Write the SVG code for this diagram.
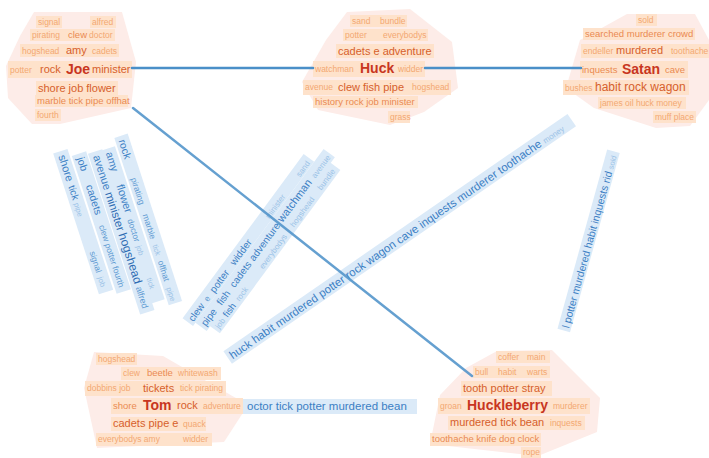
<svg xmlns="http://www.w3.org/2000/svg" width="709" height="458" viewBox="0 0 709 458">
<style>
text{font-family:"Liberation Sans",Arial,sans-serif}
.c0{font-size:14px;font-weight:bold;fill:#c8361f}
.s1{font-size:11px;fill:#d6602c}
.s2{font-size:9.5px;fill:#ea8a52}
.s3{font-size:8.5px;fill:#f3a872}
.hull{fill:#fdece8}
.wb{fill:#fee2cb}
.b0{font-size:11.5px;fill:#3b7fc4}
.b1{font-size:10.5px;fill:#3b7fc4}
.bb{font-size:11.5px;fill:#2f6db3}
.b2{font-size:8.5px;fill:#5e9ad2}
.b3{font-size:7.5px;fill:#9cc3e7}
.lb{fill:#dbeaf8}
.edge{stroke:#4a8fc8;stroke-width:2.5;fill:none;stroke-linecap:round}
</style>
<rect width="709" height="458" fill="#ffffff"/>

<g id="joe">
<polygon class="hull" points="34,12 122,12 136,62 131,108 60,124 32,124 8,98 6,66 20,36"/>
<rect class="wb" x="36" y="16" width="26" height="12"/>
<rect class="wb" x="90" y="16" width="26" height="12"/>
<rect class="wb" x="30" y="29" width="85" height="12"/>
<rect class="wb" x="20" y="44" width="99" height="13"/>
<rect class="wb" x="8" y="61" width="124" height="17"/>
<rect class="wb" x="36" y="81" width="82" height="14"/>
<rect class="wb" x="35" y="95" width="93" height="12"/>
<rect class="wb" x="35" y="109" width="26" height="12"/>
<text class="s3" x="38" y="25">signal</text>
<text class="s3" x="92" y="25">alfred</text>
<text class="s3" x="32" y="38">pirating</text>
<text class="s2" x="68" y="38">clew</text>
<text class="s3" x="89" y="38">doctor</text>
<text class="s3" x="22" y="54">hogshead</text>
<text class="s1" x="66" y="54">amy</text>
<text class="s3" x="92" y="54">cadets</text>
<text class="s3" x="10" y="73">potter</text>
<text class="s1" x="40" y="73">rock</text>
<text class="c0" x="66" y="74">Joe</text>
<text class="s1" x="92" y="73">minister</text>
<text class="s1" x="38" y="92">shore job flower</text>
<text class="s2" x="37" y="104">marble tick pipe offhat</text>
<text class="s3" x="37" y="118">fourth</text>
</g>

<g id="huck">
<polygon class="hull" points="347,12 410,9 452,42 458,88 424,112 390,125 318,110 302,82 326,40"/>
<rect class="wb" x="350" y="15" width="57" height="12"/>
<rect class="wb" x="343" y="29" width="85" height="12"/>
<rect class="wb" x="336" y="44" width="98" height="14"/>
<rect class="wb" x="313" y="61" width="112" height="16"/>
<rect class="wb" x="303" y="80" width="148" height="15"/>
<rect class="wb" x="313" y="96" width="105" height="12"/>
<rect class="wb" x="388" y="111" width="22" height="12"/>
<text class="s3" x="352" y="24">sand</text>
<text class="s3" x="380" y="24">bundle</text>
<text class="s3" x="345" y="38">potter</text>
<text class="s3" x="383" y="38">everybodys</text>
<text class="s1" x="338" y="55">cadets e adventure</text>
<text class="s3" x="315" y="72">watchman</text>
<text class="c0" x="360" y="73">Huck</text>
<text class="s3" x="398" y="72">widder</text>
<text class="s3" x="305" y="90">avenue</text>
<text class="s1" x="338" y="91">clew fish pipe</text>
<text class="s3" x="412" y="90">hogshead</text>
<text class="s2" x="315" y="105">history rock job minister</text>
<text class="s3" x="390" y="120">grass</text>
</g>

<g id="satan">
<polygon class="hull" points="627,14 695,14 709,40 709,100 690,126 656,128 594,108 566,88 580,40"/>
<rect class="wb" x="636" y="14" width="21" height="12"/>
<rect class="wb" x="583" y="28" width="112" height="12"/>
<rect class="wb" x="581" y="44" width="128" height="14"/>
<rect class="wb" x="580" y="61" width="108" height="17"/>
<rect class="wb" x="563" y="80" width="126" height="15"/>
<rect class="wb" x="598" y="97" width="88" height="12"/>
<rect class="wb" x="653" y="111" width="43" height="12"/>
<text class="s3" x="638" y="23">sold</text>
<text class="s2" x="585" y="37">searched murderer crowd</text>
<text class="s3" x="583" y="54">endeller</text>
<text class="s1" x="616" y="54">murdered</text>
<text class="s3" x="671" y="54">toothache</text>
<text class="s2" x="582" y="73">inquests</text>
<text class="c0" x="622" y="74">Satan</text>
<text class="s2" x="665" y="73">cave</text>
<text class="s3" x="565" y="91">bushes</text>
<text class="s1" x="595" y="91" style="font-size:12px">habit rock wagon</text>
<text class="s3" x="600" y="106">james oil huck money</text>
<text class="s3" x="655" y="120">muff place</text>
</g>

<g id="tom">
<polygon class="hull" points="94,352 163,356 248,405 224,442 97,448 84,388"/>
<rect class="wb" x="96" y="353" width="41" height="12"/>
<rect class="wb" x="121" y="367" width="100" height="13"/>
<rect class="wb" x="85" y="381" width="141" height="15"/>
<rect class="wb" x="111" y="398" width="132" height="16"/>
<rect class="wb" x="111" y="417" width="95" height="14"/>
<rect class="wb" x="96" y="433" width="116" height="13"/>
<text class="s3" x="98" y="362">hogshead</text>
<text class="s3" x="123" y="376">clew</text>
<text class="s2" x="147" y="376">beetle</text>
<text class="s3" x="178" y="376">whitewash</text>
<text class="s3" x="87" y="391">dobbins job</text>
<text class="s1" x="143" y="392">tickets</text>
<text class="s3" x="180" y="391">tick pirating</text>
<text class="s2" x="113" y="409">shore</text>
<text class="c0" x="143" y="410">Tom</text>
<text class="s1" x="177" y="409">rock</text>
<text class="s3" x="203" y="409">adventure</text>
<text class="s1" x="113" y="427">cadets pipe e</text>
<text class="s3" x="183" y="427">quack</text>
<text class="s3" x="98" y="442">everybodys amy</text>
<text class="s3" x="183" y="442">widder</text>
</g>

<g id="huckleberry">
<polygon class="hull" points="497,351 552,350 600,398 597,432 538,456 430,444 440,395 466,368"/>
<rect class="wb" x="496" y="351" width="54" height="12"/>
<rect class="wb" x="473" y="366" width="77" height="12"/>
<rect class="wb" x="461" y="381" width="91" height="15"/>
<rect class="wb" x="438" y="398" width="152" height="16"/>
<rect class="wb" x="448" y="416" width="137" height="14"/>
<rect class="wb" x="430" y="433" width="111" height="13"/>
<rect class="wb" x="521" y="447" width="20" height="11"/>
<text class="s3" x="498" y="360">coffer</text>
<text class="s3" x="527" y="360">main</text>
<text class="s3" x="475" y="375">bull</text>
<text class="s3" x="498" y="375">habit</text>
<text class="s3" x="527" y="375">warts</text>
<text class="s1" x="463" y="392">tooth potter stray</text>
<text class="s3" x="440" y="409">groan</text>
<text class="c0" x="467" y="410">Huckleberry</text>
<text class="s3" x="553" y="409">murderer</text>
<text class="s1" x="450" y="426">murdered tick bean</text>
<text class="s3" x="550" y="426">inquests</text>
<text class="s2" x="432" y="442">toothache knife dog clock</text>
<text class="s3" x="523" y="455">rope</text>
</g>

<g id="connectors">
<g id="label-joe" transform="translate(127,138) rotate(72)">
<rect class="lb" x="-4" y="-2" width="176" height="14"/>
<rect class="lb" x="4" y="14" width="161" height="14"/>
<rect class="lb" x="3" y="27" width="169" height="15"/>
<rect class="lb" x="0" y="43" width="145" height="15"/>
<rect class="lb" x="-8" y="60" width="148" height="15"/>
<text class="b1" x="0" y="9">rock</text>
<text class="b2" x="40" y="9">pirating</text>
<text class="b2" x="78" y="9">marble</text>
<text class="b3" x="110" y="9">tick</text>
<text class="b2" x="127" y="9">offhat</text>
<text class="b3" x="155" y="9">pipe</text>
<text class="b1" x="8" y="25">amy</text>
<text class="b1" x="42" y="25" style="font-size:11px">flower</text>
<text class="b2" x="78" y="25">doctor</text>
<text class="b3" x="106" y="25">job</text>
<text class="b3" x="140" y="25">tick</text>
<text class="b1" x="7" y="38" style="font-size:11px">avenue</text>
<text class="bb" x="46" y="38">minister</text>
<text class="bb" x="89" y="38" style="font-size:12px">hogshead</text>
<text class="b2" x="145" y="38" style="font-size:9px">alfred</text>
<text class="b1" x="4" y="54">job</text>
<text class="b1" x="33" y="54">cadets</text>
<text class="b2" x="75" y="54">clew potter fourth</text>
<text class="b1" x="-4" y="71" style="font-size:11px">shore</text>
<text class="b1" x="28" y="71" style="font-size:10px">tick</text>
<text class="b3" x="46" y="71">pipe</text>
<text class="b2" x="97" y="71">signal</text>
<text class="b3" x="124" y="71">job</text>
</g>
<g id="label-huck" transform="translate(190,320) rotate(-53.6)">
<rect class="lb" x="-3" y="-7" width="204" height="13"/>
<rect class="lb" x="1" y="6" width="216" height="14"/>
<rect class="lb" x="7" y="19" width="203" height="13"/>
<text class="b1" x="0" y="4" style="font-size:10px">clew</text>
<text class="b2" x="25" y="4">e</text>
<text class="b1" x="36" y="4" style="font-size:10px">potter</text>
<text class="b1" x="70" y="4" style="font-size:10px">widder</text>
<text class="b3" x="128" y="4" style="font-size:8px">minister</text>
<text class="b3" x="180" y="4" style="font-size:8px">sand</text>
<text class="b1" x="4" y="17" style="font-size:10px">pipe</text>
<text class="b1" x="30" y="17" style="font-size:10px">fish</text>
<text class="b1" x="52" y="17" style="font-size:10px">cadets</text>
<text class="b1" x="85" y="17" style="font-size:10px">adventure</text>
<text class="b1" x="133" y="17" style="font-size:11px">watchman</text>
<text class="b3" x="188" y="17" style="font-size:8px">avenue</text>
<text class="b3" x="10" y="29" style="font-size:8px">job</text>
<text class="b1" x="24" y="29" style="font-size:9.5px">fish</text>
<text class="b3" x="44" y="29" style="font-size:8px">rock</text>
<text class="b3" x="84" y="29" style="font-size:8px">everybodys</text>
<text class="b3" x="136" y="29" style="font-size:8px">hogshead</text>
<text class="b3" x="182" y="29" style="font-size:8px">bundle</text>
</g>
<g id="label-long" transform="translate(231,357) rotate(-34.6)">
<rect class="lb" x="-3" y="-9" width="418" height="15"/>
<text class="b0" x="0" y="3">huck habit murdered potter rock wagon cave inquests murderer toothache <tspan class="b3" style="font-size:8px">money</tspan></text>
</g>
<g id="label-right" transform="translate(566,328) rotate(-74.5)">
<rect class="lb" x="-3" y="-8" width="186" height="13"/>
<text class="b1" x="0" y="3">l potter murdered habit inquests rid <tspan class="b3">sold</tspan></text>
</g>
<g id="label-tom">
<rect class="lb" x="243" y="399" width="174" height="15"/>
<text class="b0" x="247" y="410">octor tick potter murdered bean</text>
</g>
<line class="edge" x1="132" y1="68" x2="313" y2="68"/>
<line class="edge" x1="425" y1="68" x2="581" y2="68"/>
<line class="edge" x1="133" y1="108" x2="472" y2="376" opacity="0.85"/>
</g>
</svg>
